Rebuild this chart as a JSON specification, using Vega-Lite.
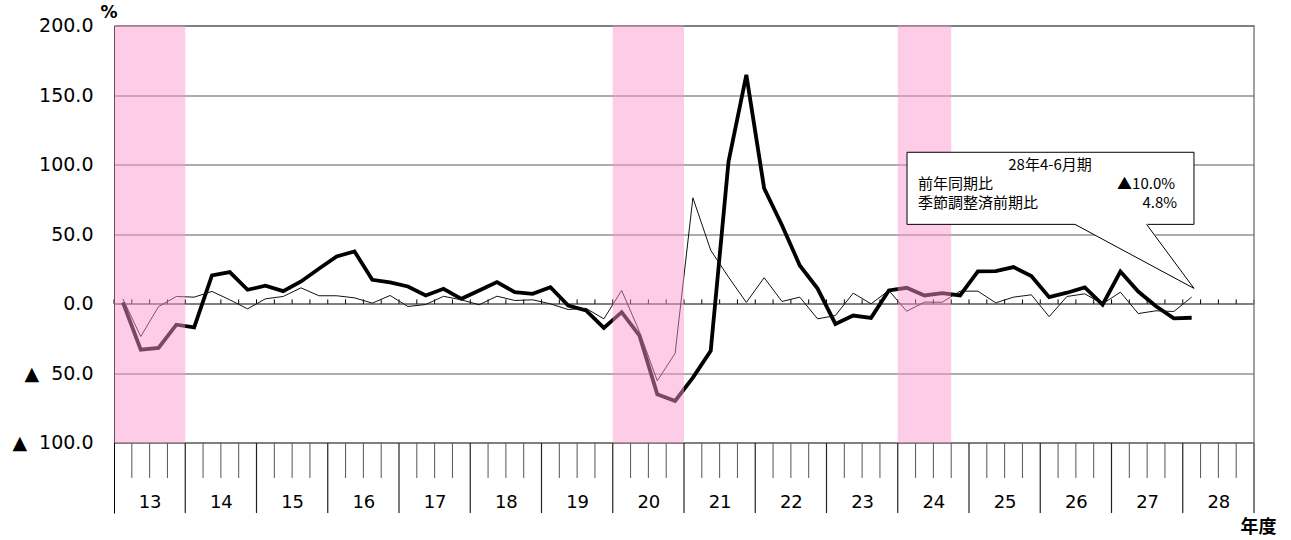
{
  "$schema": "https://vega.github.io/schema/vega-lite/v6.json",
  "width": 1140,
  "height": 487.5,
  "autosize": {"type": "none"},
  "padding": {"left": 114, "top": 25.5, "right": 37, "bottom": 27},
  "background": "white",
  "config": {"view": {"stroke": null}},
  "datasets": {
    "series": [
      {"t": 1, "fy": 13, "q": 1, "yoy": 1.0, "qoq": 3.6},
      {"t": 2, "fy": 13, "q": 2, "yoy": -33.0, "qoq": -23.5},
      {"t": 3, "fy": 13, "q": 3, "yoy": -31.7, "qoq": -2.0},
      {"t": 4, "fy": 13, "q": 4, "yoy": -15.0, "qoq": 5.3},
      {"t": 5, "fy": 14, "q": 1, "yoy": -16.9, "qoq": 4.8},
      {"t": 6, "fy": 14, "q": 2, "yoy": 20.4, "qoq": 8.9},
      {"t": 7, "fy": 14, "q": 3, "yoy": 22.8, "qoq": 2.9},
      {"t": 8, "fy": 14, "q": 4, "yoy": 10.1, "qoq": -3.6},
      {"t": 9, "fy": 15, "q": 1, "yoy": 13.0, "qoq": 3.6},
      {"t": 10, "fy": 15, "q": 2, "yoy": 9.1, "qoq": 5.3},
      {"t": 11, "fy": 15, "q": 3, "yoy": 16.1, "qoq": 11.5},
      {"t": 12, "fy": 15, "q": 4, "yoy": 25.2, "qoq": 5.8},
      {"t": 13, "fy": 16, "q": 1, "yoy": 34.1, "qoq": 5.8},
      {"t": 14, "fy": 16, "q": 2, "yoy": 37.7, "qoq": 4.3},
      {"t": 15, "fy": 16, "q": 3, "yoy": 17.3, "qoq": 0.5},
      {"t": 16, "fy": 16, "q": 4, "yoy": 15.4, "qoq": 6.0},
      {"t": 17, "fy": 17, "q": 1, "yoy": 12.5, "qoq": -1.9},
      {"t": 18, "fy": 17, "q": 2, "yoy": 6.0, "qoq": -0.5},
      {"t": 19, "fy": 17, "q": 3, "yoy": 10.8, "qoq": 5.4},
      {"t": 20, "fy": 17, "q": 4, "yoy": 3.6, "qoq": 2.9},
      {"t": 21, "fy": 18, "q": 1, "yoy": 9.6, "qoq": -0.7},
      {"t": 22, "fy": 18, "q": 2, "yoy": 15.6, "qoq": 5.5},
      {"t": 23, "fy": 18, "q": 3, "yoy": 8.4, "qoq": 2.4},
      {"t": 24, "fy": 18, "q": 4, "yoy": 7.2, "qoq": 2.9},
      {"t": 25, "fy": 19, "q": 1, "yoy": 12.0, "qoq": 0.0},
      {"t": 26, "fy": 19, "q": 2, "yoy": -1.2, "qoq": -4.1},
      {"t": 27, "fy": 19, "q": 3, "yoy": -4.8, "qoq": -3.2},
      {"t": 28, "fy": 19, "q": 4, "yoy": -17.3, "qoq": -10.8},
      {"t": 29, "fy": 20, "q": 1, "yoy": -6.0, "qoq": 9.6},
      {"t": 30, "fy": 20, "q": 2, "yoy": -22.9, "qoq": -20.0},
      {"t": 31, "fy": 20, "q": 3, "yoy": -65.0, "qoq": -55.3},
      {"t": 32, "fy": 20, "q": 4, "yoy": -69.8, "qoq": -35.6},
      {"t": 33, "fy": 21, "q": 1, "yoy": -53.0, "qoq": 76.2},
      {"t": 34, "fy": 21, "q": 2, "yoy": -33.7, "qoq": 38.5},
      {"t": 35, "fy": 21, "q": 3, "yoy": 102.2, "qoq": 19.2},
      {"t": 36, "fy": 21, "q": 4, "yoy": 164.5, "qoq": 1.0},
      {"t": 37, "fy": 22, "q": 1, "yoy": 83.0, "qoq": 18.8},
      {"t": 38, "fy": 22, "q": 2, "yoy": 56.5, "qoq": 1.7},
      {"t": 39, "fy": 22, "q": 3, "yoy": 27.6, "qoq": 4.8},
      {"t": 40, "fy": 22, "q": 4, "yoy": 11.0, "qoq": -10.8},
      {"t": 41, "fy": 23, "q": 1, "yoy": -14.4, "qoq": -8.4},
      {"t": 42, "fy": 23, "q": 2, "yoy": -8.4, "qoq": 7.7},
      {"t": 43, "fy": 23, "q": 3, "yoy": -10.1, "qoq": 0.0},
      {"t": 44, "fy": 23, "q": 4, "yoy": 9.6, "qoq": 9.6},
      {"t": 45, "fy": 24, "q": 1, "yoy": 11.5, "qoq": -5.3},
      {"t": 46, "fy": 24, "q": 2, "yoy": 6.0, "qoq": 1.2},
      {"t": 47, "fy": 24, "q": 3, "yoy": 7.7, "qoq": 1.2},
      {"t": 48, "fy": 24, "q": 4, "yoy": 6.0, "qoq": 9.1},
      {"t": 49, "fy": 25, "q": 1, "yoy": 23.3, "qoq": 9.1},
      {"t": 50, "fy": 25, "q": 2, "yoy": 23.5, "qoq": 0.7},
      {"t": 51, "fy": 25, "q": 3, "yoy": 26.4, "qoq": 4.8},
      {"t": 52, "fy": 25, "q": 4, "yoy": 20.0, "qoq": 6.5},
      {"t": 53, "fy": 26, "q": 1, "yoy": 4.8, "qoq": -9.2},
      {"t": 54, "fy": 26, "q": 2, "yoy": 8.0, "qoq": 5.3},
      {"t": 55, "fy": 26, "q": 3, "yoy": 11.8, "qoq": 7.2},
      {"t": 56, "fy": 26, "q": 4, "yoy": -0.5, "qoq": 0.0},
      {"t": 57, "fy": 27, "q": 1, "yoy": 23.2, "qoq": 8.4},
      {"t": 58, "fy": 27, "q": 2, "yoy": 8.8, "qoq": -7.0},
      {"t": 59, "fy": 27, "q": 3, "yoy": -1.8, "qoq": -5.0},
      {"t": 60, "fy": 27, "q": 4, "yoy": -10.4, "qoq": -5.5},
      {"t": 61, "fy": 28, "q": 1, "yoy": -10.0, "qoq": 4.8}
    ],
    "bounds": [
      {"b": 0.5}, {"b": 1.5}, {"b": 2.5}, {"b": 3.5}, {"b": 4.5}, {"b": 5.5}, {"b": 6.5}, {"b": 7.5},
      {"b": 8.5}, {"b": 9.5}, {"b": 10.5}, {"b": 11.5}, {"b": 12.5}, {"b": 13.5}, {"b": 14.5}, {"b": 15.5},
      {"b": 16.5}, {"b": 17.5}, {"b": 18.5}, {"b": 19.5}, {"b": 20.5}, {"b": 21.5}, {"b": 22.5}, {"b": 23.5},
      {"b": 24.5}, {"b": 25.5}, {"b": 26.5}, {"b": 27.5}, {"b": 28.5}, {"b": 29.5}, {"b": 30.5}, {"b": 31.5},
      {"b": 32.5}, {"b": 33.5}, {"b": 34.5}, {"b": 35.5}, {"b": 36.5}, {"b": 37.5}, {"b": 38.5}, {"b": 39.5},
      {"b": 40.5}, {"b": 41.5}, {"b": 42.5}, {"b": 43.5}, {"b": 44.5}, {"b": 45.5}, {"b": 46.5}, {"b": 47.5},
      {"b": 48.5}, {"b": 49.5}, {"b": 50.5}, {"b": 51.5}, {"b": 52.5}, {"b": 53.5}, {"b": 54.5}, {"b": 55.5},
      {"b": 56.5}, {"b": 57.5}, {"b": 58.5}, {"b": 59.5}, {"b": 60.5}, {"b": 61.5}, {"b": 62.5}, {"b": 63.5},
      {"b": 64.5}
    ],
    "recessions": [
      {"period": "H13", "from": 0.5, "to": 4.5},
      {"period": "H20", "from": 28.5, "to": 32.5},
      {"period": "H24", "from": 44.5, "to": 47.5}
    ]
  },
  "layer": [
    {
      "data": {"name": "bounds"},
      "mark": {"type": "rule", "color": "#000", "strokeWidth": 1},
      "encoding": {
        "x": {"field": "b", "type": "quantitative"},
        "y": {"datum": 0, "type": "quantitative"},
        "y2": {"datum": 3.2}
      }
    },
    {
      "data": {"name": "bounds"},
      "transform": [{"filter": "(datum.b - 0.5) % 4 != 0"}],
      "mark": {"type": "rule", "color": "#555", "strokeWidth": 1},
      "encoding": {
        "x": {"field": "b", "type": "quantitative"},
        "y": {"datum": -100, "type": "quantitative"},
        "y2": {"datum": -125.15}
      }
    },
    {
      "data": {"name": "bounds"},
      "transform": [{"filter": "(datum.b - 0.5) % 4 == 0 && datum.b > 1"}],
      "mark": {"type": "rule", "color": "#222", "strokeWidth": 1.2},
      "encoding": {
        "x": {"field": "b", "type": "quantitative"},
        "y": {"datum": -100, "type": "quantitative"},
        "y2": {"datum": -150.3}
      }
    },
    {
      "data": {"name": "series"},
      "mark": {"type": "line", "color": "#000", "strokeWidth": 3.8},
      "encoding": {
        "x": {
          "field": "t", "type": "quantitative",
          "scale": {"domain": [0.5, 64.5], "nice": false, "zero": false},
          "axis": {
            "values": [2.5, 6.5, 10.5, 14.5, 18.5, 22.5, 26.5, 30.5, 34.5, 38.5, 42.5, 46.5, 50.5, 54.5, 58.5, 62.5],
            "labelExpr": "format(13 + (datum.value - 2.5) / 4, 'd')",
            "domain": false, "ticks": false, "grid": false,
            "labelPadding": -11, "labelBaseline": "middle",
            "labelFont": "DejaVu Sans", "labelFontSize": 18, "labelColor": "#000",
            "labelFlush": false, "labelOverlap": false, "labelBound": false,
            "title": "年度", "titleFont": "Noto Sans CJK JP", "titleFontSize": 18, "titleFontWeight": "bold",
            "titleColor": "#000", "titleAlign": "right", "titleBaseline": "middle",
            "titleX": 1162, "titleY": 14
          }
        },
        "y": {
          "field": "yoy", "type": "quantitative",
          "scale": {"domain": [-150.3, 200], "nice": false, "zero": false},
          "axis": {
            "values": [-100, -50, 0, 50, 100, 150, 200],
            "labelExpr": "datum.value < 0 ? '▲\u00a0\u00a0' + format(-datum.value, '.1f') : format(datum.value, '.1f')",
            "labelFont": "DejaVu Sans", "labelFontSize": 19, "labelColor": "#000", "labelPadding": 21,
            "labelOverlap": false, "labelBound": false, "labelFlush": false,
            "ticks": false, "domain": true, "domainColor": "#000", "domainWidth": 1,
            "grid": true, "gridWidth": 1, "gridOpacity": 1,
            "gridColor": {"condition": {"test": "datum.value == 200 || datum.value == 0 || datum.value == -100", "value": "#000"}, "value": "#5a5a5a"},
            "title": "%", "titleAngle": 0, "titleAlign": "left", "titleBaseline": "middle",
            "titleX": -14, "titleY": -13, "titleFont": "DejaVu Sans", "titleFontSize": 17,
            "titleFontWeight": "bold", "titleColor": "#000"
          }
        }
      }
    },
    {
      "data": {"name": "series"},
      "mark": {"type": "line", "color": "#111", "strokeWidth": 1},
      "encoding": {
        "x": {"field": "t", "type": "quantitative"},
        "y": {"field": "qoq", "type": "quantitative"}
      }
    },
    {
      "data": {"name": "recessions"},
      "mark": {"type": "rect", "color": "#FA96CD", "opacity": 0.48},
      "encoding": {
        "x": {"field": "from", "type": "quantitative"},
        "x2": {"field": "to"},
        "y": {"datum": -100, "type": "quantitative"},
        "y2": {"datum": 200}
      }
    },
    {
      "data": {"values": [{}]},
      "mark": {"type": "rule", "color": "#808080", "strokeWidth": 1.5},
      "encoding": {
        "x": {"datum": 64.5, "type": "quantitative"},
        "y": {"datum": -150.3, "type": "quantitative"},
        "y2": {"datum": 200}
      }
    },
    {
      "data": {"values": [{}]},
      "mark": {"type": "rect", "fill": "#fff", "stroke": "#000", "strokeWidth": 1},
      "encoding": {
        "x": {"datum": 45.02, "type": "quantitative"},
        "x2": {"datum": 61.13},
        "y": {"datum": 108.9, "type": "quantitative"},
        "y2": {"datum": 57.1}
      }
    },
    {
      "data": {"values": [
        {"px": 54.45, "top": 58.0, "bottom": 57.1},
        {"px": 58.47, "top": 58.0, "bottom": 29.42},
        {"px": 61.13, "top": 11.1, "bottom": 11.1}
      ]},
      "mark": {"type": "area", "color": "#fff", "opacity": 1},
      "encoding": {
        "x": {"field": "px", "type": "quantitative"},
        "y": {"field": "top", "type": "quantitative"},
        "y2": {"field": "bottom"}
      }
    },
    {
      "data": {"values": [{}]},
      "mark": {"type": "rule", "color": "#000", "strokeWidth": 1},
      "encoding": {
        "x": {"datum": 54.45, "type": "quantitative"},
        "y": {"datum": 57.1, "type": "quantitative"},
        "x2": {"datum": 61.13},
        "y2": {"datum": 11.1}
      }
    },
    {
      "data": {"values": [{}]},
      "mark": {"type": "rule", "color": "#000", "strokeWidth": 1},
      "encoding": {
        "x": {"datum": 58.47, "type": "quantitative"},
        "y": {"datum": 57.1, "type": "quantitative"},
        "x2": {"datum": 61.13},
        "y2": {"datum": 11.1}
      }
    },
    {
      "data": {"values": [{}]},
      "mark": {"type": "text", "text": "28年4-6月期", "font": "Noto Sans CJK JP", "fontSize": 15, "align": "center", "baseline": "middle", "color": "#000"},
      "encoding": {"x": {"datum": 53.05, "type": "quantitative"}, "y": {"datum": 99.7, "type": "quantitative"}}
    },
    {
      "data": {"values": [{}]},
      "mark": {"type": "text", "text": "前年同期比", "font": "Noto Sans CJK JP", "fontSize": 15, "align": "left", "baseline": "middle", "color": "#000"},
      "encoding": {"x": {"datum": 45.64, "type": "quantitative"}, "y": {"datum": 86.1, "type": "quantitative"}}
    },
    {
      "data": {"values": [{}]},
      "mark": {"type": "text", "text": "▲10.0%", "font": "Noto Sans CJK JP", "fontSize": 15, "align": "right", "baseline": "middle", "color": "#000"},
      "encoding": {"x": {"datum": 60.07, "type": "quantitative"}, "y": {"datum": 86.1, "type": "quantitative"}}
    },
    {
      "data": {"values": [{}]},
      "mark": {"type": "text", "text": "季節調整済前期比", "font": "Noto Sans CJK JP", "fontSize": 15, "align": "left", "baseline": "middle", "color": "#000"},
      "encoding": {"x": {"datum": 45.64, "type": "quantitative"}, "y": {"datum": 72.4, "type": "quantitative"}}
    },
    {
      "data": {"values": [{}]},
      "mark": {"type": "text", "text": "4.8%", "font": "Noto Sans CJK JP", "fontSize": 15, "align": "right", "baseline": "middle", "color": "#000"},
      "encoding": {"x": {"datum": 60.18, "type": "quantitative"}, "y": {"datum": 72.4, "type": "quantitative"}}
    }
  ]
}
